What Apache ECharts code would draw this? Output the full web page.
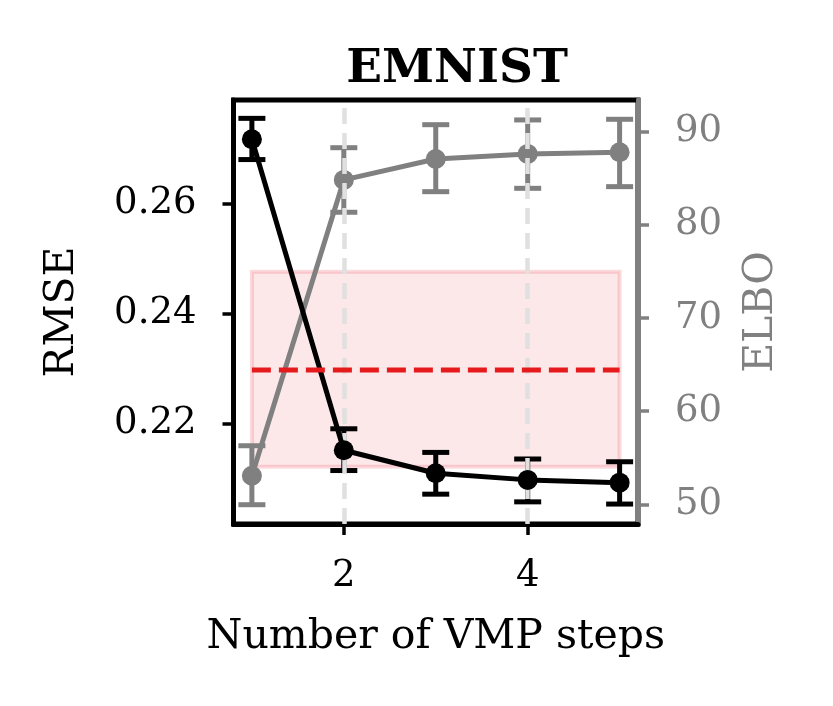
<!DOCTYPE html>
<html>
<head>
<meta charset="utf-8">
<script src="https://cdn.jsdelivr.net/npm/echarts@6/dist/echarts.min.js"></script>
<style>
  html, body { margin: 0; padding: 0; background: #fff; }
  #chart { width: 833px; height: 706px; }
</style>
</head>
<body>
<div id="chart"></div>
<script>
// values
const steps = [1, 2, 3, 4, 5];
const rmse = [0.2717, 0.2151, 0.2109, 0.2097, 0.2092];
const rmseLow = [0.2680, 0.2114, 0.2071, 0.2057, 0.2053];
const rmseHigh = [0.2755, 0.2190, 0.2147, 0.2135, 0.2130];
const elbo = [53.07, 84.82, 87.07, 87.61, 87.79];
const elboLow = [49.96, 81.35, 83.56, 83.92, 84.10];
const elboHigh = [56.29, 88.28, 90.75, 91.26, 91.33];
const baselineRmse = 0.2297;
const baselineBand = [0.2121, 0.2476];
const xTicks = [2, 4];
const rmseTicks = [0.22, 0.24, 0.26];
const elboTicks = [50, 60, 70, 80, 90];

const FONT = 'DejaVu Serif';
const GRAY = '#808080';
const TICK_SIZE = 37;
const NAME_SIZE = 41;
const LW = 5;

const zip = (a, b) => a.map((v, i) => [v, b[i]]);
const zip3 = (a, b, c) => a.map((v, i) => [v, b[i], c[i]]);

// vertical error bar with caps
function errorBars(color) {
	return function (params, api) {
		const x = api.value(0);
		const lo = api.coord([x, api.value(1)]);
		const hi = api.coord([x, api.value(2)]);
		const half = 13.5;
		const style = { stroke: color, lineWidth: LW };
		return {
			type: 'group',
			children: [
				{ type: 'line', shape: { x1: lo[0], y1: lo[1], x2: hi[0], y2: hi[1] }, style },
				{ type: 'line', shape: { x1: lo[0] - half, y1: lo[1], x2: lo[0] + half, y2: lo[1] }, style },
				{ type: 'line', shape: { x1: hi[0] - half, y1: hi[1], x2: hi[0] + half, y2: hi[1] }, style },
			]
		};
	};
}

const chart = echarts.init(document.getElementById('chart'), null, { renderer: 'canvas' });

chart.setOption({
	animation: false,
	backgroundColor: '#fff',
	textStyle: { fontFamily: FONT },
	title: {
		text: 'EMNIST',
		left: 452,
		top: 41,
		textAlign: 'center',
		textStyle: { fontFamily: FONT, fontWeight: 'bold', fontSize: 47, color: '#000' }
	},
	grid: {
		left: 233.5, right: 195, top: 100, bottom: 182,
		show: true, borderColor: '#000', borderWidth: 5, backgroundColor: 'transparent'
	},
	xAxis: {
		type: 'value',
		min: 0.8, max: 5.2,
		name: 'Number of VMP steps',
		nameLocation: 'middle',
		nameGap: 93,
		nameTextStyle: { fontFamily: FONT, fontSize: NAME_SIZE, color: '#000' },
		axisLine: { lineStyle: { color: '#000', width: 5 } },
		axisTick: { customValues: xTicks, length: 11, lineStyle: { color: '#000', width: 3.5 } },
		axisLabel: { customValues: xTicks, margin: 34, fontFamily: FONT, fontSize: TICK_SIZE, color: '#000' },
		splitLine: { show: false }
	},
	yAxis: [
		{
			type: 'value',
			min: 0.20167, max: 0.27884,
			name: 'RMSE',
			nameLocation: 'middle',
			nameRotate: 90,
			nameGap: 151,
			nameTextStyle: { fontFamily: FONT, fontSize: NAME_SIZE, color: '#000' },
			axisLine: { show: true, lineStyle: { color: '#000', width: 5 } },
			axisTick: { show: true, customValues: rmseTicks, length: 11, lineStyle: { color: '#000', width: 3.5 } },
			axisLabel: { customValues: rmseTicks, margin: 37, fontFamily: FONT, fontSize: TICK_SIZE, color: '#000',
				formatter: v => v.toFixed(2) },
			splitLine: { show: false }
		},
		{
			type: 'value',
			position: 'right',
			min: 47.89, max: 93.40,
			name: 'ELBO',
			nameLocation: 'middle',
			nameRotate: 90,
			nameGap: 103,
			nameTextStyle: { fontFamily: FONT, fontSize: NAME_SIZE, color: GRAY },
			axisLine: { show: true, lineStyle: { color: GRAY, width: 5 } },
			axisTick: { show: true, customValues: elboTicks, length: 11, lineStyle: { color: GRAY, width: 3.5 } },
			axisLabel: { customValues: elboTicks, margin: 37, fontFamily: FONT, fontSize: TICK_SIZE, color: GRAY },
			splitLine: { show: false }
		}
	],
	series: [
		{
			// grid lines at the x ticks
			type: 'line',
			data: [],
			z: 0,
			silent: true,
			markLine: {
				symbol: 'none',
				silent: true,
				label: { show: false },
				lineStyle: { color: '#e0e0e0', width: 4.5, type: [16, 9] },
				data: xTicks.map(v => ({ xAxis: v }))
			}
		},
		{
			type: 'custom',
			yAxisIndex: 1,
			z: 2,
			renderItem: errorBars(GRAY),
			encode: { x: 0, y: [1, 2] },
			data: zip3(steps, elboLow, elboHigh)
		},
		{
			name: 'ELBO',
			type: 'line',
			yAxisIndex: 1,
			z: 3,
			symbol: 'circle',
			symbolSize: 20,
			itemStyle: { color: GRAY },
			lineStyle: { color: GRAY, width: LW },
			data: zip(steps, elbo)
		},
		{
			// baseline band and mean
			name: 'baseline',
			type: 'line',
			z: 6,
			symbol: 'none',
			lineStyle: { color: '#e41a1c', width: 5, type: [19, 8] },
			data: [[steps[0], baselineRmse], [steps[steps.length - 1], baselineRmse]],
			markArea: {
				silent: true,
				itemStyle: { color: 'rgba(235, 70, 85, 0.13)', borderColor: 'rgba(235, 70, 85, 0.2)', borderWidth: 4 },
				data: [[
					{ xAxis: steps[0], yAxis: baselineBand[0] },
					{ xAxis: steps[steps.length - 1], yAxis: baselineBand[1] }
				]]
			}
		},
		{
			type: 'custom',
			z: 4,
			renderItem: errorBars('#000'),
			encode: { x: 0, y: [1, 2] },
			data: zip3(steps, rmseLow, rmseHigh)
		},
		{
			name: 'RMSE',
			type: 'line',
			z: 5,
			symbol: 'circle',
			symbolSize: 20,
			itemStyle: { color: '#000' },
			lineStyle: { color: '#000', width: LW },
			data: zip(steps, rmse)
		}
	]
});
</script>
</body>
</html>
